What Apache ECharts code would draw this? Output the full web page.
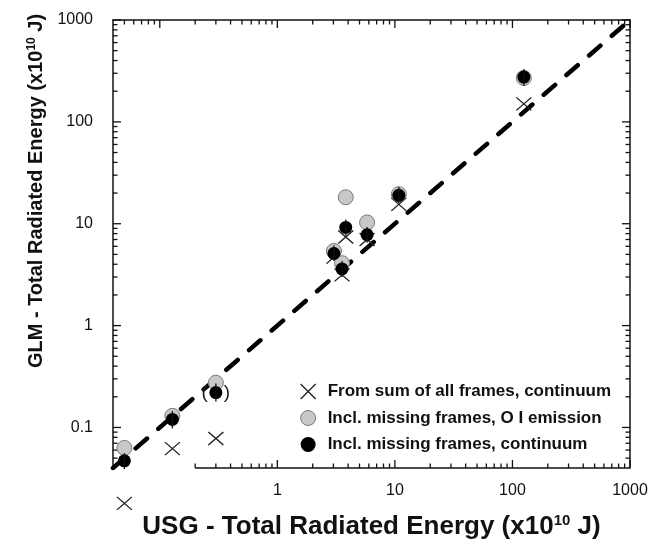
<!DOCTYPE html>
<html><head><meta charset="utf-8">
<script src="https://cdn.jsdelivr.net/npm/echarts@6/dist/echarts.min.js"></script>
<style>html,body{margin:0;padding:0;background:#fff}#c{width:662px;height:545px}</style>
</head><body><div id="c"></div>
<script>
// ---- data (x10^10 J) ----
const usgEnergy        = [0.05, 0.128, 0.30, 3.03, 3.55, 3.82, 5.8, 10.8, 125];
const sumFramesEnergy  = [0.018, 0.062, 0.078, 4.7, 3.15, 7.4, 7.0, 15.5, 150];
const oiEmissionEnergy = [0.063, 0.13, 0.275, 5.4, 4.1, 18.2, 10.3, 19.5, 270];
const continuumEnergy  = [0.047, 0.12, 0.22, 5.1, 3.6, 9.2, 7.8, 19, 275];
const continuumErrLow  = [0.039, 0.098, 0.18, 4.3, 3.0, 7.6, 6.5, 16, 225];
const continuumErrHigh = [0.056, 0.145, 0.27, 6.1, 4.3, 11, 9.3, 23, 330];
const bracketed        = [0, 0, 1, 0, 0, 0, 0, 0, 0];
const identityLine     = [0.04, 1000];
const seriesNames = ['From sum of all frames, continuum', 'Incl. missing frames, O I emission', 'Incl. missing frames, continuum'];
const xTickLabels = ['1', '10', '100', '1000'];
const yTickLabels = ['0.1', '1', '10', '100', '1000'];
const majorTicks = [0.1, 1, 10, 100, 1000];
const minorTicks = [0.05, 0.06, 0.07, 0.08, 0.09,
  0.2, 0.3, 0.4, 0.5, 0.6, 0.7, 0.8, 0.9,
  2, 3, 4, 5, 6, 7, 8, 9,
  20, 30, 40, 50, 60, 70, 80, 90,
  200, 300, 400, 500, 600, 700, 800, 900];
const bottomAxisRange = [0.2, 1000];

const FONT = '"Liberation Sans", Arial, sans-serif';
const AXMIN = 0.04, AXMAX = 1000;
function fmt(v) { return String(Number(Number(v).toPrecision(6))); }

const tickData = [];
majorTicks.forEach(v => { tickData.push([v, 1, 0, 1]); tickData.push([1, v, 1, 1]); });
minorTicks.forEach(v => { tickData.push([v, 1, 0, 0]); tickData.push([1, v, 1, 0]); });

const tickStyle = { stroke: '#111', lineWidth: 1.3 };
function renderTicks(params, api) {
  const cs = params.coordSys;
  const axis = api.value(2), major = api.value(3);
  const len = major ? 8 : 4.5;
  const ch = [];
  if (axis === 0) {
    const v = api.value(0);
    const px = api.coord([v, 1])[0];
    ch.push({ type: 'line', shape: { x1: px, y1: cs.y, x2: px, y2: cs.y + len }, style: tickStyle });
    if (v >= bottomAxisRange[0] - 1e-9) {
      ch.push({ type: 'line', shape: { x1: px, y1: cs.y + cs.height, x2: px, y2: cs.y + cs.height - len }, style: tickStyle });
    }
  } else {
    const v = api.value(1);
    const py = api.coord([1, v])[1];
    ch.push({ type: 'line', shape: { x1: cs.x, y1: py, x2: cs.x + len, y2: py }, style: tickStyle });
    ch.push({ type: 'line', shape: { x1: cs.x + cs.width, y1: py, x2: cs.x + cs.width - len, y2: py }, style: tickStyle });
  }
  return { type: 'group', children: ch };
}
function renderBottomAxis(params, api) {
  const cs = params.coordSys;
  const x1 = api.coord([api.value(0), 1])[0];
  const x2 = api.coord([api.value(1), 1])[0];
  const y = cs.y + cs.height;
  return { type: 'line', shape: { x1: x1, y1: y, x2: x2, y2: y }, style: { stroke: '#111', lineWidth: 1.5 } };
}
function renderErr(params, api) {
  const p1 = api.coord([api.value(0), api.value(1)]);
  const p2 = api.coord([api.value(0), api.value(2)]);
  return { type: 'line', shape: { x1: p1[0], y1: p1[1], x2: p2[0], y2: p2[1] }, style: { stroke: '#111', lineWidth: 1.3 } };
}

const chart = echarts.init(document.getElementById('c'), null, { renderer: 'canvas' });
const axisLineStyle = { color: '#111', width: 1.5 };
chart.setOption({
  animation: false,
  backgroundColor: '#fff',
  grid: { left: 113, right: 32, top: 20, bottom: 72 },
  legend: {
    data: [
      { name: seriesNames[0], itemStyle: { borderWidth: 1.3, color: 'transparent', borderColor: '#222', opacity: 1 } },
      { name: seriesNames[1], itemStyle: { borderWidth: 1, color: '#c8c8c8', borderColor: '#7a7a7a', opacity: 1 } },
      { name: seriesNames[2], itemStyle: { borderWidth: 0, color: '#000', opacity: 1 } }
    ],
    orient: 'vertical', left: 295, top: 378, itemWidth: 15, itemHeight: 15, itemGap: 9.5,
    selectedMode: false,
    textStyle: { fontFamily: FONT, fontWeight: 'bold', fontSize: 17, color: '#111', lineHeight: 17, padding: [0, 0, 0, 7] }
  },
  xAxis: [{
    type: 'log', logBase: 10, min: AXMIN, max: AXMAX,
    axisLine: { show: false }, axisTick: { show: false }, splitLine: { show: false },
    axisLabel: {
      margin: 15, fontFamily: FONT, fontSize: 16, color: '#111',
      formatter: v => (xTickLabels.indexOf(fmt(v)) >= 0 ? fmt(v) : '')
    },
    name: 'USG - Total Radiated Energy (x10{sup|10} J)',
    nameLocation: 'middle', nameGap: 45,
    nameTextStyle: {
      fontFamily: FONT, fontWeight: 'bold', fontSize: 26, color: '#111', lineHeight: 27,
      rich: { sup: { fontFamily: FONT, fontWeight: 'bold', fontSize: 15, color: '#111', verticalAlign: 'top', lineHeight: 27 } }
    }
  }, {
    type: 'log', logBase: 10, min: AXMIN, max: AXMAX, position: 'top',
    axisLine: { show: true, lineStyle: axisLineStyle }, axisTick: { show: false },
    axisLabel: { show: false }, splitLine: { show: false }
  }],
  yAxis: [{
    type: 'log', logBase: 10, min: AXMIN, max: AXMAX,
    axisLine: { show: true, lineStyle: axisLineStyle }, axisTick: { show: false }, splitLine: { show: false },
    axisLabel: {
      margin: 20, fontFamily: FONT, fontSize: 16, color: '#111',
      formatter: v => (yTickLabels.indexOf(fmt(v)) >= 0 ? fmt(v) : '')
    },
    name: 'GLM - Total Radiated Energy (x10{sup|10} J)',
    nameLocation: 'middle', nameGap: 66,
    nameTextStyle: {
      fontFamily: FONT, fontWeight: 'bold', fontSize: 20, color: '#111', lineHeight: 21,
      padding: [0, 0, 0, 106],
      rich: { sup: { fontFamily: FONT, fontWeight: 'bold', fontSize: 12, color: '#111', verticalAlign: 'top', lineHeight: 21 } }
    }
  }, {
    type: 'log', logBase: 10, min: AXMIN, max: AXMAX, position: 'right',
    axisLine: { show: true, lineStyle: axisLineStyle }, axisTick: { show: false },
    axisLabel: { show: false }, splitLine: { show: false }
  }],
  series: [
    {
      name: 'ticks', type: 'custom', renderItem: renderTicks, data: tickData,
      encode: { x: 0, y: 1 }, silent: true, z: 1
    },
    {
      name: 'bottomAxis', type: 'custom', renderItem: renderBottomAxis,
      data: [[bottomAxisRange[0], bottomAxisRange[1]]], encode: { x: [0, 1] }, silent: true, z: 1
    },
    {
      name: '1:1', type: 'line', data: [[identityLine[0], identityLine[0]], [identityLine[1], identityLine[1]]],
      symbol: 'none', lineStyle: { color: '#000', width: 4.5, type: [15, 15], cap: 'round' }, z: 2, silent: true
    },
    {
      name: seriesNames[0], type: 'scatter', clip: false, z: 3,
      data: usgEnergy.map((x, i) => [x, sumFramesEnergy[i]]),
      symbol: 'path://M0,0L10,10M10,0L0,10', symbolSize: [15, 13],
      itemStyle: { color: 'transparent', borderColor: '#222', borderWidth: 1.3, opacity: 1 }
    },
    {
      name: seriesNames[1], type: 'scatter', clip: false, z: 4,
      data: usgEnergy.map((x, i) => [x, oiEmissionEnergy[i]]),
      symbol: 'circle', symbolSize: 15,
      itemStyle: { color: '#c8c8c8', borderColor: '#7a7a7a', borderWidth: 1, opacity: 1 }
    },
    {
      name: seriesNames[2], type: 'scatter', clip: false, z: 5,
      data: usgEnergy.map((x, i) => ({
        value: [x, continuumEnergy[i]],
        label: bracketed[i] ? { show: true, position: 'inside', formatter: '(   )', fontSize: 19, fontFamily: FONT, color: '#222' } : { show: false }
      })),
      symbol: 'circle', symbolSize: 13,
      itemStyle: { color: '#000', opacity: 1 }
    },
    {
      name: 'err', type: 'custom', renderItem: renderErr, z: 6, silent: true,
      data: usgEnergy.map((x, i) => [x, continuumErrLow[i], continuumErrHigh[i]]),
      encode: { x: 0, y: [1, 2] }
    }
  ]
});
</script></body></html>
